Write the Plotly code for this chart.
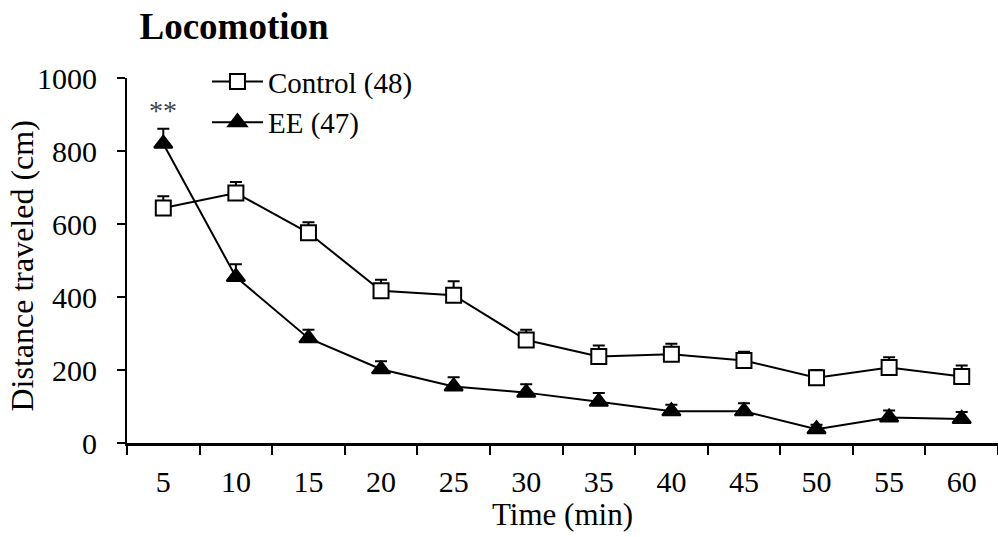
import plotly.graph_objects as go

times = ["5", "10", "15", "20", "25", "30", "35", "40", "45", "50", "55", "60"]
control_mean = [644, 685, 576, 417, 405, 282, 237, 243, 226, 179, 207, 182]
control_err = [32, 30, 29, 30, 38, 28, 30, 29, 24, 21, 28, 30]
ee_mean = [820, 455, 287, 202, 155, 138, 113, 87, 87, 38, 70, 66]
ee_err = [41, 35, 23, 22, 25, 23, 24, 18, 22, 12, 19, 19]
y_ticks = [0, 200, 400, 600, 800, 1000]

FONT = "Liberation Serif, Times New Roman, serif"

fig = go.Figure()
fig.add_trace(go.Scatter(
    x=times, y=control_mean, name="Control (48)", mode="lines+markers",
    line=dict(color="black", width=2),
    marker=dict(symbol="square", size=15, color="white", line=dict(color="black", width=2)),
    error_y=dict(type="data", array=control_err, arrayminus=[0]*len(control_err),
                 symmetric=False, color="black", thickness=2, width=6),
))
fig.add_trace(go.Scatter(
    x=times, y=ee_mean, name="EE (47)", mode="lines+markers",
    line=dict(color="black", width=2),
    marker=dict(symbol="triangle-up", size=16, color="black", line=dict(color="black", width=2)),
    error_y=dict(type="data", array=ee_err, arrayminus=[0]*len(ee_err),
                 symmetric=False, color="black", thickness=2, width=6),
))

# significance marker above first EE point
fig.add_annotation(x=0, y=910, xref="x", yref="y", text="**",
                   showarrow=False, yanchor="middle", xanchor="center",
                   font=dict(family=FONT, size=28, color="#444444"))

# axis titles
fig.add_annotation(x=0.5, y=-0.197, xref="paper", yref="paper", text="Time (min)",
                   showarrow=False, xanchor="center", yanchor="middle",
                   font=dict(family=FONT, size=31, color="black"))
fig.add_annotation(x=-0.1206, y=0.486, xref="paper", yref="paper", text="Distance traveled (cm)",
                   showarrow=False, xanchor="center", yanchor="middle", textangle=-90,
                   font=dict(family=FONT, size=32, color="black"))

fig.update_layout(
    width=998, height=537,
    margin=dict(l=127, r=0, t=78, b=94),
    paper_bgcolor="white", plot_bgcolor="white",
    font=dict(family=FONT, size=30, color="black"),
    title=dict(text="<b>Locomotion</b>", x=0.2345, xanchor="center", y=0.952, yanchor="middle",
               font=dict(family=FONT, size=37, color="black")),
    showlegend=True,
    legend=dict(x=0.0918, y=1.060, xanchor="left", yanchor="top",
                bgcolor="rgba(0,0,0,0)", font=dict(family=FONT, size=29),
                tracegroupgap=0, itemsizing="trace", itemwidth=51),
    xaxis=dict(
        type="category", range=[-0.5, 11.5], tickson="boundaries",
        showline=True, linecolor="black", linewidth=3,
        ticks="outside", ticklen=9, tickwidth=2, tickcolor="black",
        showgrid=False, zeroline=False, automargin=False,
        tickfont=dict(family=FONT, size=30),
        ticklabelstandoff=10,
    ),
    yaxis=dict(
        range=[0, 1000], tickvals=y_ticks,
        showline=True, linecolor="black", linewidth=2,
        ticks="outside", ticklen=8, tickwidth=2, tickcolor="black",
        showgrid=False, zeroline=False, automargin=False,
        tickfont=dict(family=FONT, size=30),
        ticklabelstandoff=14,
    ),
)

fig.write_html(
    "out.html",
    config={"displayModeBar": False},
    post_script="document.body.style.margin='0';document.body.style.overflow='hidden';",
)
